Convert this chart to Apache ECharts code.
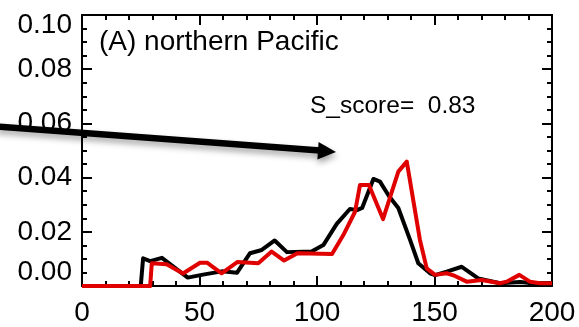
<!DOCTYPE html>
<html>
<head>
<meta charset="utf-8">
<script src="https://cdn.jsdelivr.net/npm/echarts@6/dist/echarts.min.js"></script>
<style>
  html, body { margin: 0; padding: 0; background: #fff; }
  #chart { width: 579px; height: 327px; }
</style>
</head>
<body>
<div id="chart"></div>
<script>
// Distribution curves, northern Pacific (x: value, y: frequency)
const blackX = [0, 25, 26, 29, 34, 45, 51.5, 59.5, 66, 71.5, 76.5, 82, 87.2, 97.7, 102.7, 108.4, 114, 117, 119.2, 124, 126.8, 130.6, 134.6, 139.6, 143.1, 148.1, 150.2, 155.2, 161.6, 168.6, 177.9, 186.4, 192, 200];
const blackY = [0, 0, 0.0102, 0.0092, 0.0104, 0.0031, 0.0042, 0.0054, 0.0049, 0.0121, 0.0133, 0.0168, 0.0125, 0.0127, 0.0151, 0.0229, 0.0284, 0.028, 0.0288, 0.0395, 0.0385, 0.0332, 0.0288, 0.017, 0.0084, 0.0047, 0.004, 0.0053, 0.0071, 0.0028, 0.001, 0.0015, 0.001, 0.0011];

const redX = [0, 29, 29.7, 36, 43, 50.2, 53.2, 59.4, 66.2, 75, 80.7, 86, 91.7, 106.4, 111.2, 116.2, 118.3, 122.1, 128.1, 134.6, 138.2, 143.8, 146.7, 150.2, 155.2, 158.7, 163.7, 170.1, 177.9, 180.7, 186.1, 190.6, 194.9, 200];
const redY = [0, 0, 0.0084, 0.008, 0.0046, 0.0086, 0.0086, 0.0047, 0.0089, 0.0084, 0.0127, 0.0094, 0.0121, 0.0118, 0.0188, 0.0274, 0.0373, 0.0373, 0.0247, 0.0422, 0.0459, 0.017, 0.0065, 0.0041, 0.0047, 0.0037, 0.0016, 0.0022, 0.001, 0.0016, 0.0041, 0.0016, 0.001, 0.001];

const xTicks = { min: 0, max: 200, interval: 50 };
const yTicks = { min: 0, max: 0.1, interval: 0.02 };

const panelTitle = '(A) northern Pacific';
const scoreText = 'S_score=  0.83';

const FONT = 'Liberation Sans, Arial, Helvetica, sans-serif';
const LABEL_SIZE = 28;

const zip = (xs, ys) => xs.map((x, i) => [x, ys[i]]);

const tickStyle = { color: '#000', width: 2 };

function xAxisCfg(pos, labels) {
  return {
    type: 'value', position: pos,
    min: xTicks.min, max: xTicks.max, interval: xTicks.interval,
    axisLine: { show: true, onZero: false, lineStyle: { color: '#000', width: 2 } },
    axisTick: { show: true, inside: true, length: 10, lineStyle: tickStyle },
    minorTick: { show: true, splitNumber: 5, length: 5, lineStyle: tickStyle },
    splitLine: { show: false },
    axisLabel: labels ? { show: true, color: '#000', fontFamily: FONT, fontSize: LABEL_SIZE, margin: 13 } : { show: false }
  };
}

function yAxisCfg(pos, labels) {
  return {
    type: 'value', position: pos,
    min: yTicks.min, max: yTicks.max, interval: yTicks.interval,
    axisLine: { show: true, onZero: false, lineStyle: { color: '#000', width: 2 } },
    axisTick: { show: true, inside: true, length: 10, lineStyle: tickStyle },
    minorTick: { show: true, splitNumber: 4, length: 5, lineStyle: tickStyle },
    splitLine: { show: false },
    axisLabel: labels ? {
      show: true, color: '#000', fontFamily: FONT, fontSize: LABEL_SIZE, margin: 10,
      formatter: v => {
        const s = v.toFixed(2);
        if (Math.abs(v - yTicks.max) < 1e-9) return '{t|' + s + '}';
        if (Math.abs(v - yTicks.min) < 1e-9) return '{b|' + s + '}';
        return s;
      },
      rich: {
        t: { fontFamily: FONT, fontSize: LABEL_SIZE, color: '#000', padding: [20, 0, 0, 0] },
        b: { fontFamily: FONT, fontSize: LABEL_SIZE, color: '#000', padding: [0, 0, 28, 0] }
      }
    } : { show: false }
  };
}

const chart = echarts.init(document.getElementById('chart'), null, { renderer: 'canvas' });

chart.setOption({
  animation: false,
  backgroundColor: '#fff',
  grid: { left: 82, top: 15, right: 27, bottom: 41, containLabel: false },
  xAxis: [xAxisCfg('bottom', true), xAxisCfg('top', false)],
  yAxis: [yAxisCfg('left', true), yAxisCfg('right', false)],
  series: [
    {
      name: 'black', type: 'line', xAxisIndex: 0, yAxisIndex: 0,
      data: zip(blackX, blackY), showSymbol: false, symbol: 'none',
      lineStyle: { color: '#000', width: 4, join: 'round' }, z: 2
    },
    {
      name: 'red', type: 'line', xAxisIndex: 0, yAxisIndex: 0,
      data: zip(redX, redY), showSymbol: false, symbol: 'none',
      lineStyle: { color: '#e00000', width: 4, join: 'round' }, z: 3
    }
  ],
  graphic: [
    {
      type: 'text', left: 99, top: 28, z: 10,
      style: { text: panelTitle, fontFamily: FONT, fontSize: 28, fill: '#000' }
    },
    {
      type: 'text', left: 310, top: 94, z: 10,
      style: { text: scoreText, fontFamily: FONT, fontSize: 24.5, fill: '#000' }
    },
    {
      // pointer arrow shaft
      type: 'line', z: 20,
      shape: { x1: -4, y1: 126.5, x2: 320, y2: 150.5 },
      style: {
        stroke: '#000', lineWidth: 6.5,
        shadowBlur: 6, shadowOffsetX: 1, shadowOffsetY: 4, shadowColor: 'rgba(0,0,0,0.35)'
      }
    },
    {
      // pointer arrow head
      type: 'polygon', z: 21,
      shape: { points: [[336, 152], [317.4, 159.5], [318.6, 142]] },
      style: {
        fill: '#000',
        shadowBlur: 6, shadowOffsetX: 1, shadowOffsetY: 4, shadowColor: 'rgba(0,0,0,0.35)'
      }
    }
  ]
});
</script>
</body>
</html>
